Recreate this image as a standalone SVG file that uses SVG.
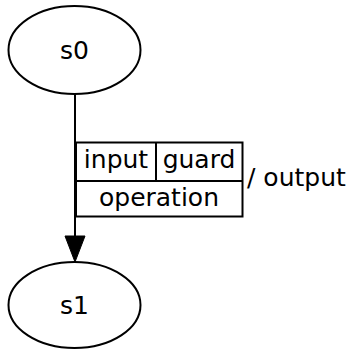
<svg xmlns="http://www.w3.org/2000/svg" width="352" height="349" viewBox="0 0 352 349">
  <style>
    .node ellipse { fill: #ffffff; stroke: #000000; stroke-width: 2; }
    .lbl { font-family: "DejaVu Sans", sans-serif; font-size: 25px; fill: #000000; }
    .mid { text-anchor: middle; }
    .edge line { stroke: #000000; stroke-width: 2; }
    .edge polygon { fill: #000000; stroke: #000000; stroke-width: 1; }
    .tbl rect, .tbl line { fill: none; stroke: #000000; stroke-width: 2; }
  </style>
  <rect width="352" height="349" fill="#ffffff"/>

  <g id="s0" class="node">
    <ellipse cx="74.5" cy="50" rx="66" ry="44"/>
    <text class="lbl mid" x="74.5" y="59">s0</text>
  </g>

  <g id="s1" class="node">
    <ellipse cx="74.5" cy="305" rx="66" ry="43"/>
    <text class="lbl mid" x="74.5" y="314">s1</text>
  </g>

  <g id="connectors" class="edge">
    <line x1="75" y1="94" x2="75" y2="237"/>
    <polygon points="65,236 85,236 75,262"/>
    <!-- transition label: input | guard over operation, then output -->
    <g id="s0-s1-label" class="tbl">
      <rect x="76" y="142.5" width="166.5" height="74"/>
      <line x1="76" y1="181" x2="242.5" y2="181"/>
      <line x1="156" y1="142.5" x2="156" y2="181"/>
      <text class="lbl mid" x="116" y="167.5">input</text>
      <text class="lbl mid" x="199" y="167.5">guard</text>
      <text class="lbl mid" x="159" y="205.5">operation</text>
      <text class="lbl" x="247" y="186">/ output</text>
    </g>
  </g>
</svg>
